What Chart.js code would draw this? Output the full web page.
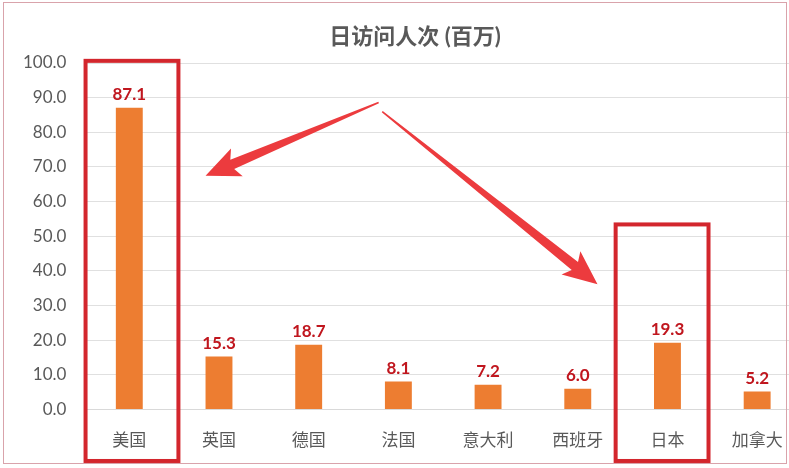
<!DOCTYPE html>
<html>
<head>
<meta charset="utf-8">
<script src="https://cdn.jsdelivr.net/npm/chart.js@4.4.1/dist/chart.umd.min.js"></script>
<style>
  html, body { margin: 0; padding: 0; background: #fff; overflow: hidden; }
  #wrap { position: relative; width: 830px; height: 468px; }
  #frame { position: absolute; left: 3px; top: 2px; width: 782px; height: 460px;
           border: 1px solid #d9a3ab; pointer-events: none; }
</style>
</head>
<body>
<div id="wrap">
  <canvas id="visitChart" width="830" height="468"></canvas>
  <div id="frame"></div>
</div>
<script>
// DATA
const chartTitle = "日访问人次 (百万)";
const countries = ["美国", "英国", "德国", "法国", "意大利", "西班牙", "日本", "加拿大"];
const dailyVisits = [87.1, 15.3, 18.7, 8.1, 7.2, 6.0, 19.3, 5.2];
const yTicks = [0, 10, 20, 30, 40, 50, 60, 70, 80, 90, 100];

// highlight boxes and arrows, in category index / value units
const boxCenters = [0.03, 5.94];
const boxTops = [101.2, 54];
const arrowStart = [[2.78, 88.6], [2.82, 86.0]];
const arrowTips = [[0.85, 67.5], [5.22, 36.2]];

const FONT = "Lato, 'Noto Sans CJK SC', sans-serif";
const GREY = "#595959";

// TITLE (centred on the full chart width, like the original)
const titlePlugin = {
    id: "titlePlugin",
    afterDraw(chart) {
        const ctx = chart.ctx;
        ctx.save();
        ctx.fillStyle = GREY;
        ctx.font = "bold 22px " + FONT;
        ctx.textAlign = "center";
        ctx.textBaseline = "middle";
        ctx.fillText(chartTitle, chart.width / 2, 37);
        ctx.restore();
    }
};

// VALUE LABELS ABOVE BARS
const valueLabels = {
    id: "valueLabels",
    afterDatasetsDraw(chart) {
        const ctx = chart.ctx;
        const meta = chart.getDatasetMeta(0);
        ctx.save();
        ctx.fillStyle = "#c0161e";
        ctx.font = "bold 17px " + FONT;
        ctx.textAlign = "center";
        ctx.textBaseline = "bottom";
        meta.data.forEach((bar, i) => {
            ctx.fillText(dailyVisits[i].toFixed(1), bar.x, bar.y - 5);
        });
        ctx.restore();
    }
};

// RED BOXES + ARROWS
function drawArrow(ctx, x0, y0, x1, y1) {
    const ang = Math.atan2(y1 - y0, x1 - x0);
    const len = Math.hypot(x1 - x0, y1 - y0);
    const headLen = 34, headW = 15, shaftEnd = 5, shaftStart = 0.8;
    ctx.save();
    ctx.translate(x0, y0);
    ctx.rotate(ang);
    ctx.beginPath();
    ctx.moveTo(0, -shaftStart);
    ctx.lineTo(len - headLen + 5, -shaftEnd);
    ctx.lineTo(len - headLen, -headW);
    ctx.lineTo(len, 0);
    ctx.lineTo(len - headLen, headW);
    ctx.lineTo(len - headLen + 5, shaftEnd);
    ctx.lineTo(0, shaftStart);
    ctx.closePath();
    ctx.fillStyle = "#ec3b3e";
    ctx.fill();
    ctx.restore();
}

const highlights = {
    id: "highlights",
    afterDraw(chart) {
        const ctx = chart.ctx;
        const xs = chart.scales.x, ys = chart.scales.y;
        const half = 0.54;
        ctx.save();
        ctx.strokeStyle = "#d3262d";
        ctx.lineWidth = 4;
        boxCenters.forEach((c, i) => {
            const l = xs.getPixelForValue(c - half) + 2;
            const r = xs.getPixelForValue(c + half) - 2;
            const t = ys.getPixelForValue(boxTops[i]) + 2;
            const b = ys.getPixelForValue(-15.4) - 2;
            ctx.strokeRect(l, t, r - l, b - t);
        });
        ctx.restore();
        arrowTips.forEach((tip, i) => {
            const s = arrowStart[i];
            drawArrow(ctx,
                xs.getPixelForValue(s[0]), ys.getPixelForValue(s[1]),
                xs.getPixelForValue(tip[0]), ys.getPixelForValue(tip[1]));
        });
    }
};

const ctx = document.getElementById("visitChart").getContext("2d");
new Chart(ctx, {
    type: "bar",
    data: {
        labels: countries,
        datasets: [{
            data: dailyVisits,
            backgroundColor: "#ed7d31",
            barPercentage: 0.3,
            categoryPercentage: 1.0
        }]
    },
    options: {
        responsive: false,
        animation: false,
        layout: { padding: { left: 5, right: 28, top: 63, bottom: 4 } },
        plugins: {
            legend: { display: false },
            tooltip: { enabled: false },
            title: { display: false }
        },
        scales: {
            x: {
                grid: { display: false },
                border: { color: "#d9d9d9" },
                ticks: {
                    color: GREY,
                    padding: 13,
                    font: { family: FONT, size: 17 }
                }
            },
            y: {
                min: 0,
                max: 100,
                afterBuildTicks(axis) {
                    axis.ticks = yTicks.map(v => ({ value: v }));
                },
                grid: { color: "#e0e0e0", drawTicks: false },
                border: { display: false },
                ticks: {
                    color: GREY,
                    padding: 18,
                    font: { family: FONT, size: 17 },
                    callback: v => v.toFixed(1)
                }
            }
        }
    },
    plugins: [valueLabels, highlights, titlePlugin]
});
</script>
</body>
</html>
